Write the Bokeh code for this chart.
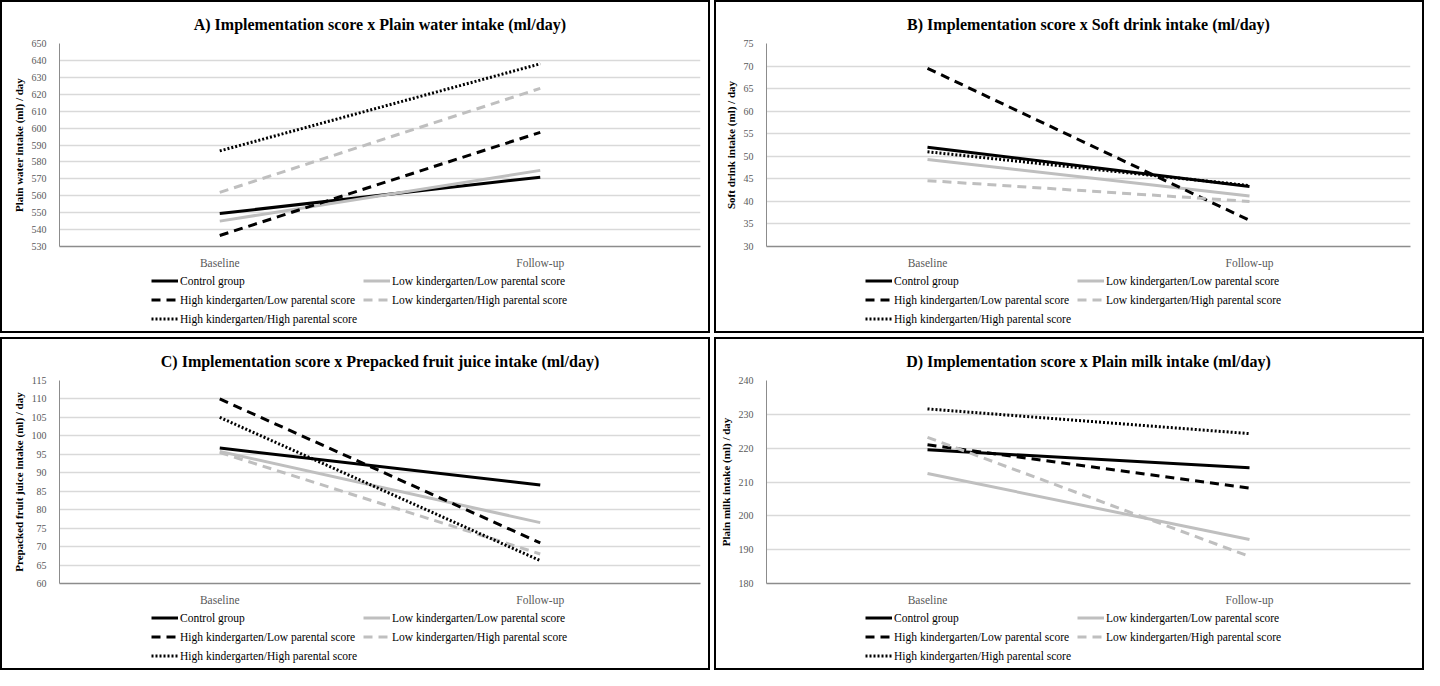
from bokeh.plotting import figure
from bokeh.models import FactorRange, Range1d, FixedTicker, Legend, LegendItem, ColumnDataSource
from bokeh.layouts import column, row
from bokeh.embed import file_html
from bokeh.resources import INLINE

# ---------------- data ----------------
periods = ["Baseline", "Follow-up"]
groups = [
    "Control group",
    "Low kindergarten/Low parental score",
    "High kindergarten/Low parental score",
    "Low kindergarten/High parental score",
    "High kindergarten/High parental score",
]

water_control = [549.5, 571.0]
water_lowk_lowp = [545.0, 575.0]
water_highk_lowp = [536.5, 597.5]
water_lowk_highp = [562.0, 623.5]
water_highk_highp = [586.5, 638.0]

soft_control = [52.0, 43.3]
soft_lowk_lowp = [49.3, 41.2]
soft_highk_lowp = [69.5, 35.8]
soft_lowk_highp = [44.6, 40.0]
soft_highk_highp = [51.0, 43.5]

juice_control = [96.7, 86.7]
juice_lowk_lowp = [95.8, 76.5]
juice_highk_lowp = [110.0, 71.0]
juice_lowk_highp = [95.5, 68.0]
juice_highk_highp = [105.0, 66.2]

milk_control = [219.5, 214.2]
milk_lowk_lowp = [212.5, 193.0]
milk_highk_lowp = [221.0, 208.2]
milk_lowk_highp = [223.2, 188.0]
milk_highk_highp = [231.6, 224.3]

titles = [
    "A) Implementation score x Plain water intake (ml/day)",
    "B) Implementation score x Soft drink intake (ml/day)",
    "C) Implementation score x Prepacked fruit juice intake (ml/day)",
    "D) Implementation score x Plain milk intake (ml/day)",
]
y_labels = [
    "Plain water intake (ml) / day",
    "Soft drink intake (ml) / day",
    "Prepacked fruit juice intake (ml) / day",
    "Plain milk intake (ml) / day",
]
y_ticks_A = [530, 540, 550, 560, 570, 580, 590, 600, 610, 620, 630, 640, 650]
y_ticks_B = [30, 35, 40, 45, 50, 55, 60, 65, 70, 75]
y_ticks_C = [60, 65, 70, 75, 80, 85, 90, 95, 100, 105, 110, 115]
y_ticks_D = [180, 190, 200, 210, 220, 230, 240]

panel_series = [
    [water_control, water_lowk_lowp, water_highk_lowp, water_lowk_highp, water_highk_highp],
    [soft_control, soft_lowk_lowp, soft_highk_lowp, soft_lowk_highp, soft_highk_highp],
    [juice_control, juice_lowk_lowp, juice_highk_lowp, juice_lowk_highp, juice_highk_highp],
    [milk_control, milk_lowk_lowp, milk_highk_lowp, milk_lowk_highp, milk_highk_highp],
]
panel_ticks = [y_ticks_A, y_ticks_B, y_ticks_C, y_ticks_D]

# legend is filled column by column: column 1 then column 2
legend_order = [0, 2, 4, 1, 3]

# ---------------- styles ----------------
FONT = "Liberation Serif"
line_colors = ["#000000", "#bfbfbf", "#000000", "#bfbfbf", "#000000"]
line_dashes = ["solid", "solid", "9 6", "9 6", "2 2"]
left_borders = [57, 50, 57, 50]
right_borders = [8, 12, 8, 12]

W = 706
H_PLOT = 270
H_LEG = 59


def make_panel(i):
    ticks = panel_ticks[i]
    p = figure(
        width=W, height=H_PLOT,
        x_range=FactorRange(*periods, range_padding=0),
        y_range=Range1d(ticks[0], ticks[-1]),
        output_backend="svg", toolbar_location=None,
        min_border_left=left_borders[i], min_border_right=right_borders[i],
        min_border_top=41, min_border_bottom=26,
    )
    p.title.text = titles[i]
    p.title.text_font = FONT
    p.title.text_font_size = "16px"
    p.title.text_font_style = "bold"
    p.title.text_color = "#000000"
    p.title.align = "center"
    p.title.standoff = 21
    p.outline_line_color = None

    p.xgrid.grid_line_color = None
    p.ygrid.grid_line_color = "#d9d9d9"
    p.ygrid.grid_line_width = 1.5
    p.ygrid.ticker = FixedTicker(ticks=ticks)

    p.yaxis.ticker = FixedTicker(ticks=ticks)
    p.yaxis.axis_label = y_labels[i]
    p.yaxis.axis_label_text_font = FONT
    p.yaxis.axis_label_text_font_style = "bold"
    p.yaxis.axis_label_text_font_size = "11px"
    p.yaxis.axis_label_text_color = "#000000"
    p.yaxis.axis_label_standoff = 4
    p.yaxis.major_label_text_font = FONT
    p.yaxis.major_label_text_font_size = "10px"
    p.yaxis.major_label_text_color = "#595959"
    p.yaxis.major_label_standoff = 7
    p.yaxis.major_tick_line_color = None
    p.yaxis.minor_tick_line_color = None
    p.yaxis.axis_line_color = "#8c8c8c"

    p.xaxis.major_label_text_font = FONT
    p.xaxis.major_label_text_font_size = "11.5px"
    p.xaxis.major_label_text_color = "#595959"
    p.xaxis.major_label_standoff = 4
    p.xaxis.major_tick_line_color = None
    p.xaxis.minor_tick_line_color = None
    p.xaxis.axis_line_color = "#8c8c8c"
    p.xaxis.axis_line_width = 1.5

    for g, vals in enumerate(panel_series[i]):
        src = ColumnDataSource(dict(x=periods, y=vals))
        p.line("x", "y", source=src, line_color=line_colors[g],
               line_width=3, line_dash=line_dashes[g])

    # legend strip below the chart: same series drawn in a figure whose
    # y range excludes them, so only the legend swatches are visible
    lf = figure(
        width=W, height=H_LEG, output_backend="svg", toolbar_location=None,
        x_range=FactorRange(*periods, range_padding=0), y_range=Range1d(-2, -1),
        x_axis_location=None, y_axis_location=None,
        min_border_left=left_borders[i], min_border_right=right_borders[i],
        min_border_top=0, min_border_bottom=0,
    )
    lf.grid.grid_line_color = None
    lf.outline_line_color = None
    renderers = []
    for g, vals in enumerate(panel_series[i]):
        src = ColumnDataSource(dict(x=periods, y=vals))
        renderers.append(lf.line("x", "y", source=src, line_color=line_colors[g],
                                 line_width=3, line_dash=line_dashes[g]))
    items = [LegendItem(label=groups[g], renderers=[renderers[g]]) for g in legend_order]
    legend = Legend(
        items=items, ncols=2, location=(149 - left_borders[i], 6),
        label_text_font=FONT, label_text_font_size="11.5px", label_text_color="#000000",
        glyph_width=27, glyph_height=13, label_height=13, label_standoff=2,
        spacing=6, padding=0, margin=0,
        border_line_color=None, background_fill_alpha=0,
    )
    lf.add_layout(legend)
    return column(p, lf, spacing=0, styles={"border": "2px solid #000000"})


panels = [make_panel(i) for i in range(4)]
layout = column(
    row(panels[0], panels[1], spacing=4),
    row(panels[2], panels[3], spacing=4),
    spacing=4,
)

open("out.html", "w").write(file_html(layout, INLINE))
